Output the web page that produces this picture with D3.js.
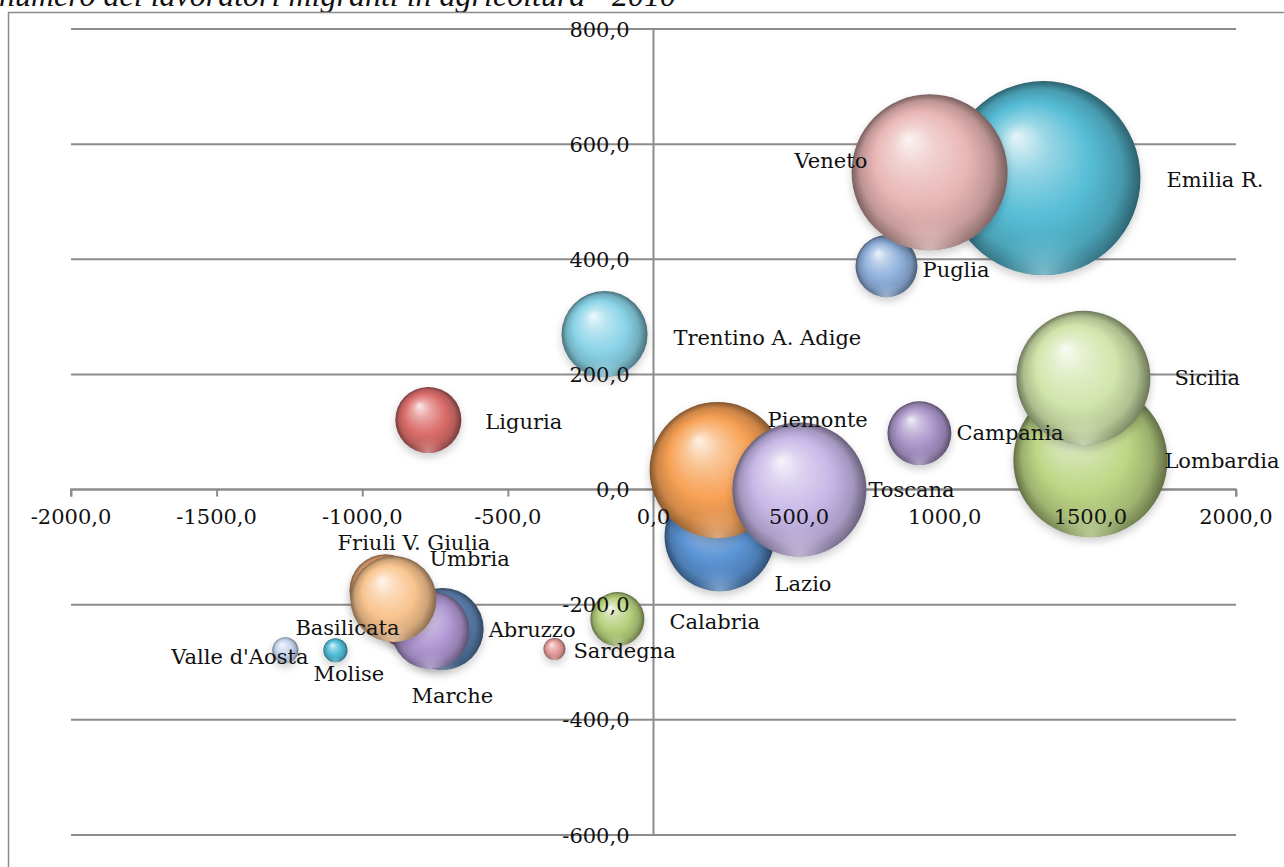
<!DOCTYPE html>
<html>
<head>
<meta charset="utf-8">
<script src="https://cdn.jsdelivr.net/npm/d3@7/dist/d3.min.js"></script>
<style>
  html, body { margin: 0; padding: 0; background: #fff; }
  svg { display: block; }
</style>
</head>
<body>
<svg id="chart" width="1284" height="867"></svg>
<script>
// Regions, in drawing order (later ones sit on top)
const regions = [
  "Emilia R.", "Puglia", "Veneto", "Trentino A. Adige", "Liguria",
  "Lombardia", "Sicilia", "Campania", "Lazio", "Piemonte", "Toscana",
  "Calabria", "Sardegna", "Basilicata", "Abruzzo", "Marche",
  "Friuli V. Giulia", "Umbria", "Valle d'Aosta", "Molise"
];
// Horizontal position of each bubble
const xValues = [
  1339, 800, 948, -168, -773,
  1500, 1476, 913, 227, 220, 501,
  -124, -340, -845, -724, -766,
  -920, -893, -1264, -1092
];
// Vertical position of each bubble
const yValues = [
  541, 388, 551, 270, 121,
  51, 194, 98, -81, 34, 0,
  -225, -277, -223, -242, -244,
  -175, -190, -279, -279
];
// Bubble size (area)
const sizes = [
  9400, 960, 6080, 1850, 1090,
  5930, 4490, 1020, 3030, 4620, 4490,
  730, 120, 900, 1680, 1520,
  1300, 1850, 170, 145
];
const xTicks = [-2000, -1500, -1000, -500, 0, 500, 1000, 1500, 2000];
const yTicks = [-600, -400, -200, 0, 200, 400, 600, 800];
const titleText = "numero dei lavoratori migranti in agricoltura - 2010";

// Sphere base colours per region
const colors = {
  "Emilia R.": "#56bdd6", "Puglia": "#8fb0dc", "Veneto": "#e8b6b4",
  "Trentino A. Adige": "#8ad4e8", "Liguria": "#dc6f6c",
  "Lombardia": "#bdd685", "Sicilia": "#d2e5ab", "Campania": "#a995c8",
  "Lazio": "#5c95d6", "Piemonte": "#f7a155", "Toscana": "#c6b6e6",
  "Calabria": "#b6cf7c", "Sardegna": "#e49a9a", "Basilicata": "#d9706a",
  "Abruzzo": "#6089bb", "Marche": "#b39ad6",
  "Friuli V. Giulia": "#f3ad78", "Umbria": "#f9c48f",
  "Valle d'Aosta": "#c6d6ee", "Molise": "#4fbcd6"
};
// Label placement relative to the bubble centre (dx, dy in px), start-anchored
const labelOffset = {
  "Emilia R.": [123, 3], "Puglia": [36, 5], "Veneto": [-135, -10],
  "Trentino A. Adige": [69, 5], "Liguria": [57, 4],
  "Lombardia": [74, 2], "Sicilia": [91, 2], "Campania": [37, 1],
  "Lazio": [55, 49], "Piemonte": [50, -48], "Toscana": [69, 2],
  "Calabria": [52, 4], "Sardegna": [19, 3], "Basilicata": [-112, 12],
  "Abruzzo": [46, 3], "Marche": [-19, 67],
  "Friuli V. Giulia": [-48, -46], "Umbria": [36, -38],
  "Valle d'Aosta": [-114, 8], "Molise": [-22, 25]
};

const svg = d3.select("#chart");
const W = 1284, H = 867;

const x = d3.scaleLinear().domain([-2000, 2000]).range([71, 1236]);
const y = d3.scaleLinear().domain([-600, 800]).range([835, 29]);
const r = d3.scaleSqrt().domain([0, 9400]).range([0, 97]);

const FONT = "'DejaVu Serif', 'Liberation Serif', serif";
const gridColor = "#8c8c8c";
// Italian-style number with one decimal and a plain hyphen for negatives
const fmt = v => (v < 0 ? "-" : "") + Math.abs(v).toFixed(1).replace(".", ",");

// Title (sits partly above the top edge of the frame)
svg.append("text")
  .attr("x", -1).attr("y", 6)
  .attr("font-family", "'Liberation Serif', 'Times New Roman', serif")
  .attr("font-style", "italic")
  .attr("font-size", 32)
  .attr("fill", "#111")
  .text(titleText);

// Outer chart frame
svg.append("rect")
  .attr("x", 8.5).attr("y", 12.5)
  .attr("width", W + 20).attr("height", H + 20)
  .attr("fill", "none").attr("stroke", "#8a8a8a").attr("stroke-width", 1.5);

// Horizontal gridlines
svg.append("g")
  .selectAll("line").data(yTicks).join("line")
  .attr("x1", x(-2000)).attr("x2", x(2000))
  .attr("y1", d => y(d)).attr("y2", d => y(d))
  .attr("stroke", gridColor).attr("stroke-width", 2);

// Vertical value axis line at x = 0
svg.append("line")
  .attr("x1", x(0)).attr("x2", x(0))
  .attr("y1", y(800)).attr("y2", y(-600))
  .attr("stroke", gridColor).attr("stroke-width", 2);

// Horizontal axis at y = 0 with downward ticks
const xAxis = d3.axisBottom(x).tickValues(xTicks).tickSize(7).tickFormat("");
const gx = svg.append("g").attr("transform", `translate(0,${y(0)})`).call(xAxis);
gx.select(".domain").attr("stroke", gridColor).attr("stroke-width", 2)
  .attr("d", `M${x(-2000)},7V0H${x(2000)}V7`);
gx.selectAll(".tick line").attr("stroke", gridColor).attr("stroke-width", 2);

// Sphere shading
const defs = svg.append("defs");
const filt = defs.append("filter").attr("id", "shadow")
  .attr("x", "-30%").attr("y", "-30%").attr("width", "160%").attr("height", "170%");
filt.append("feDropShadow").attr("dx", 0).attr("dy", 4).attr("stdDeviation", 4)
  .attr("flood-color", "#000").attr("flood-opacity", 0.2);

const mix = (c, t, k) => d3.interpolateRgb(c, t)(k);
regions.forEach((name, i) => {
  const c = colors[name];
  const g = defs.append("radialGradient").attr("id", "sph" + i)
    .attr("cx", "50%").attr("cy", "50%").attr("r", "50%")
    .attr("fx", "36%").attr("fy", "28%");
  [[0, mix(c, "#fff", 0.85)], [0.25, mix(c, "#fff", 0.4)], [0.6, c],
   [0.85, mix(c, "#000", 0.18)], [1, mix(c, "#000", 0.48)]]
    .forEach(([o, col]) => g.append("stop").attr("offset", o).attr("stop-color", col));
  const gl = defs.append("radialGradient").attr("id", "rim" + i)
    .attr("cx", "50%").attr("cy", "100%").attr("r", "55%")
    .attr("fx", "50%").attr("fy", "100%");
  gl.append("stop").attr("offset", 0).attr("stop-color", mix(c, "#fff", 0.4)).attr("stop-opacity", 0.75);
  gl.append("stop").attr("offset", 0.45).attr("stop-color", c).attr("stop-opacity", 0.25);
  gl.append("stop").attr("offset", 1).attr("stop-color", c).attr("stop-opacity", 0);
});

const data = regions.map((name, i) => ({
  name, i, xv: xValues[i], yv: yValues[i], s: sizes[i]
}));

const bubbles = svg.append("g").selectAll("g").data(data).join("g");
bubbles.append("circle")
  .attr("cx", d => x(d.xv)).attr("cy", d => y(d.yv)).attr("r", d => r(d.s))
  .attr("fill", d => `url(#sph${d.i})`)
  .attr("filter", "url(#shadow)");
bubbles.append("circle")
  .attr("cx", d => x(d.xv)).attr("cy", d => y(d.yv)).attr("r", d => r(d.s))
  .attr("fill", d => `url(#rim${d.i})`);

// Value-axis labels (drawn above the bubbles)
svg.append("g").selectAll("text").data(yTicks).join("text")
  .attr("x", x(0) - 24).attr("y", d => y(d) + 2)
  .attr("text-anchor", "end").attr("dominant-baseline", "middle")
  .attr("font-family", FONT).attr("font-size", 21).attr("fill", "#111")
  .text(fmt);

svg.append("g").selectAll("text").data(xTicks).join("text")
  .attr("x", d => x(d)).attr("y", y(0) + 34)
  .attr("text-anchor", "middle")
  .attr("font-family", FONT).attr("font-size", 21).attr("fill", "#111")
  .text(fmt);

// Region labels
svg.append("g").selectAll("text").data(data).join("text")
  .attr("x", d => x(d.xv) + labelOffset[d.name][0])
  .attr("y", d => y(d.yv) + labelOffset[d.name][1])
  .attr("dominant-baseline", "middle")
  .attr("font-family", FONT).attr("font-size", 21).attr("fill", "#111")
  .text(d => d.name);
</script>
</body>
</html>
